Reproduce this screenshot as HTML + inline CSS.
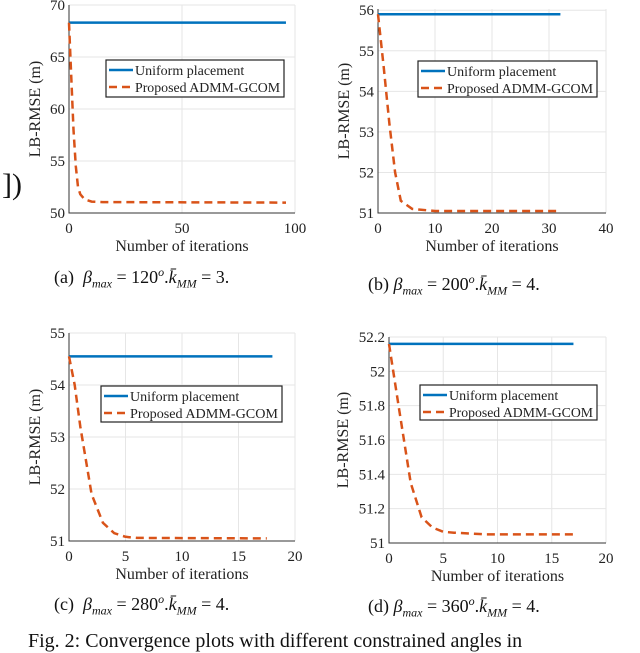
<!DOCTYPE html>
<html><head><meta charset="utf-8">
<style>
html,body{margin:0;padding:0;background:#fff;}
body{width:640px;height:644px;overflow:hidden;position:relative;font-family:"Liberation Serif",serif;}
svg{position:absolute;left:0;top:0;}
.cap{position:absolute;font-size:18px;white-space:nowrap;color:#111;}
.cap i{font-family:"Liberation Serif",serif;}
.cap sub{font-size:12px;font-style:italic;}
.cap sup{font-size:12px;font-style:italic;}
</style></head>
<body>
<svg id="fig" width="640" height="644"></svg>
<div class="cap" style="left:54px;top:265px;">(a)&nbsp; <i>β</i><sub>max</sub> = 120<sup>o</sup>.<i>k̄</i><sub>MM</sub> = 3.</div>
<div class="cap" style="left:368px;top:272px;">(b) <i>β</i><sub>max</sub> = 200<sup>o</sup>.<i>k̄</i><sub>MM</sub> = 4.</div>
<div class="cap" style="left:54px;top:592px;">(c)&nbsp; <i>β</i><sub>max</sub> = 280<sup>o</sup>.<i>k̄</i><sub>MM</sub> = 4.</div>
<div class="cap" style="left:368px;top:594px;">(d) <i>β</i><sub>max</sub> = 360<sup>o</sup>.<i>k̄</i><sub>MM</sub> = 4.</div>
<div class="cap" style="left:28px;top:630px;font-size:20px;">Fig. 2: Convergence plots with different constrained angles in</div>
<div class="cap" style="left:2px;top:168px;font-size:30px;">])</div>
<script>
const aIterX=[0,1,2,3,4,5,7,10,15,96];
const aVals=[68.3,63,58,54.5,52.5,51.8,51.3,51.1,51.05,51.0];
const aUniform=68.3, aUniformEnd=96;
const aXTicks=[0,50,100], aYTicks=[50,55,60,65,70];
const bIterX=[0,1,2,3,4,6,10,32];
const bVals=[55.9,54.6,53.2,52.0,51.3,51.1,51.05,51.05];
const bUniform=55.9, bUniformEnd=32;
const bXTicks=[0,10,20,30,40], bYTicks=[51,52,53,54,55,56];
const cIterX=[0,0.5,1,2,3,4,5,6,17.5];
const cVals=[54.55,54.0,53.2,51.9,51.35,51.15,51.08,51.06,51.05];
const cUniform=54.55, cUniformEnd=18;
const cXTicks=[0,5,10,15,20], cYTicks=[51,52,53,54,55];
const dIterX=[0,1,2,3,4,5,6,9,17];
const dVals=[52.16,51.75,51.35,51.15,51.09,51.065,51.06,51.05,51.05];
const dUniform=52.16, dUniformEnd=17;
const dXTicks=[0,5,10,15,20], dYTicks=[51,51.2,51.4,51.6,51.8,52,52.2];

const NS="http://www.w3.org/2000/svg";
const svg=document.getElementById('fig');
function mk(tag,attrs,parent){const e=document.createElementNS(NS,tag);for(const k in attrs)e.setAttribute(k,attrs[k]);(parent||svg).appendChild(e);return e;}

function chart(id,box,xd,yd,xt,yt,ix,vals,uni,uniEnd,leg,ytOff){
  const g=mk('g',{});
  
  
  const sx=v=>box.x0+(v-xd[0])/(xd[1]-xd[0])*(box.x1-box.x0);
  const sy=v=>box.y1-(v-yd[0])/(yd[1]-yd[0])*(box.y1-box.y0);
  mk('rect',{x:box.x0,y:box.y0,width:box.x1-box.x0,height:box.y1-box.y0,fill:'#fff'},g);
  xt.forEach(t=>{
    const l=mk('line',{x1:sx(t),x2:sx(t),y1:box.y0,y2:box.y1,stroke:'#e6e6e6','stroke-width':1},g);
    
    const tx=mk('text',{x:sx(t),y:box.y1+20,'text-anchor':'middle','font-size':15,fill:'#222'},g);
    tx.textContent=t;
    
  });
  yt.forEach(t=>{
    const l=mk('line',{x1:box.x0,x2:box.x1,y1:sy(t),y2:sy(t),stroke:'#e6e6e6','stroke-width':1},g);
    
    const tx=mk('text',{x:box.x0-4,y:sy(t)+5,'text-anchor':'end','font-size':15,fill:'#222'},g);
    tx.textContent=t;
    
  });
  const ax=mk('path',{d:`M${box.x0},${box.y0}V${box.y1}H${box.x1}`,fill:'none',stroke:'#333','stroke-width':1},g);
  
  const u=mk('line',{x1:sx(0),x2:sx(uniEnd),y1:sy(uni),y2:sy(uni),stroke:'#0072bd','stroke-width':2.5},g);
  
  const d=ix.map((x,i)=>(i?'L':'M')+sx(x).toFixed(1)+','+sy(vals[i]).toFixed(1)).join('');
  const p=mk('path',{d:d,fill:'none',stroke:'#d95319','stroke-width':2.5,'stroke-dasharray':'8,5'},g);
  
  const xl=mk('text',{x:(box.x0+box.x1)/2,y:box.y1+38,'text-anchor':'middle','font-size':16,fill:'#222'},g);
  xl.textContent='Number of iterations';
  
  const cy=(box.y0+box.y1)/2, cx=box.x0-ytOff;
  const yl=mk('text',{x:cx,y:cy,'text-anchor':'middle','font-size':16,fill:'#222',transform:`rotate(-90 ${cx} ${cy})`},g);
  yl.textContent='LB-RMSE (m)';
  
  const lg=mk('g',{},g);
  
  mk('rect',{x:leg.x,y:leg.y,width:leg.w,height:leg.h,fill:'#fff',stroke:'#222','stroke-width':1.2},lg);
  const e1=mk('line',{x1:leg.x+3,x2:leg.x+27,y1:leg.y+10,y2:leg.y+10,stroke:'#0072bd','stroke-width':2.5},lg);
  
  const t1=mk('text',{x:leg.x+29,y:leg.y+15,'font-size':14,fill:'#222',textLength:leg.w-60,lengthAdjust:'spacingAndGlyphs'},lg);t1.textContent='Uniform placement';
  t1.removeAttribute('textLength');
  const e2=mk('line',{x1:leg.x+3,x2:leg.x+27,y1:leg.y+27,y2:leg.y+27,stroke:'#d95319','stroke-width':2.5,'stroke-dasharray':'8,5'},lg);
  
  const t2=mk('text',{x:leg.x+29,y:leg.y+32,'font-size':14,fill:'#222',textLength:leg.w-33,lengthAdjust:'spacingAndGlyphs'},lg);t2.textContent='Proposed ADMM-GCOM';
}
chart('a',{x0:69,x1:295,y0:5,y1:213},[0,100],[50,70],aXTicks,aYTicks,aIterX,aVals,aUniform,aUniformEnd,{x:106,y:60,w:178,h:37},29);
chart('b',{x0:378,x1:606,y0:9,y1:213},[0,40],[51,56.03],bXTicks,bYTicks,bIterX,bVals,bUniform,bUniformEnd,{x:418,y:61,w:179,h:36},29);
chart('c',{x0:69,x1:295,y0:333,y1:541},[0,20],[51,55],cXTicks,cYTicks,cIterX,cVals,cUniform,cUniformEnd,{x:101,y:386,w:181,h:36},29);
chart('d',{x0:389,x1:606,y0:337,y1:543},[0,20],[51,52.2],dXTicks,dYTicks,dIterX,dVals,dUniform,dUniformEnd,{x:420,y:385,w:177,h:35},41);
</script>
</body></html>
